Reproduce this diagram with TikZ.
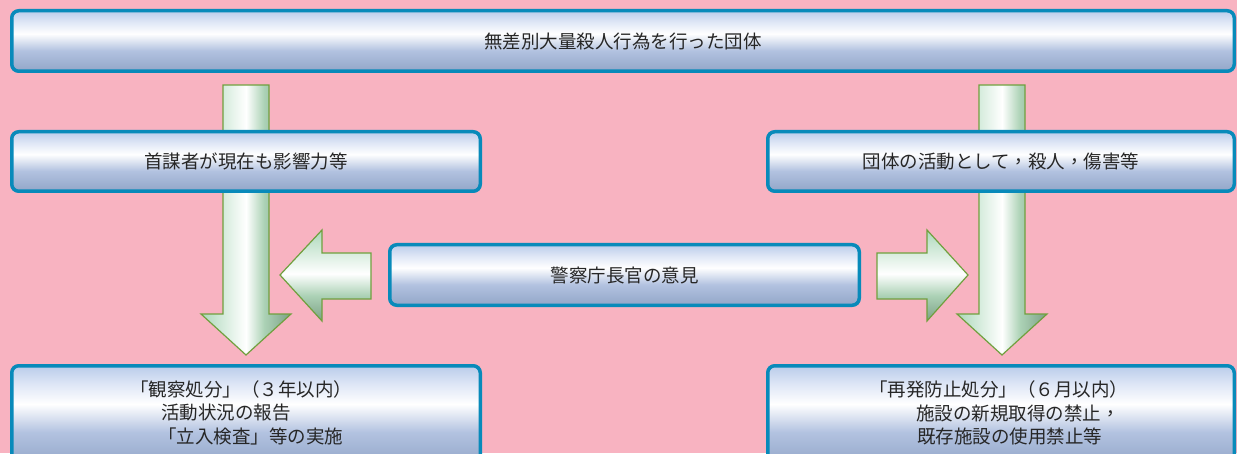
\documentclass[tikz,border=0pt]{standalone}
\usepackage{fontspec}
\newfontfamily\jp{Noto Sans CJK JP}
\newfontfamily\tcf{Noto Sans CJK TC}
\newcommand{\tcp}[1]{{\tcf #1}}
\usetikzlibrary{calc}
\definecolor{bg}{RGB}{248,179,193}
\definecolor{boxline}{RGB}{8,138,186}
\definecolor{btop}{RGB}{186,204,234}
\definecolor{bup}{RGB}{222,230,246}
\definecolor{blow}{RGB}{178,194,224}
\definecolor{bbot}{RGB}{146,166,200}
\definecolor{gl}{RGB}{172,216,186}
\definecolor{gm}{RGB}{172,210,182}
\definecolor{gd}{RGB}{124,160,134}
\definecolor{gedge}{RGB}{112,160,62}
\definecolor{txt}{RGB}{38,38,38}
\pgfdeclareverticalshading{boxshade}{100bp}{color(0bp)=(bbot); color(25bp)=(bbot); color(42bp)=(blow); color(56bp)=(white); color(66bp)=(bup); color(75bp)=(btop); color(100bp)=(btop)}
\pgfdeclarehorizontalshading{greenh}{100bp}{color(0bp)=(gl); color(25bp)=(gl); color(50bp)=(white); color(60bp)=(gm); color(75bp)=(gd); color(100bp)=(gd)}
\pgfdeclareverticalshading{greenv}{100bp}{color(0bp)=(gd); color(25bp)=(gd); color(39bp)=(gm); color(51bp)=(white); color(75bp)=(gl); color(100bp)=(gl)}
\tikzset{
  box/.style={draw=boxline, line width=3.5pt, rounded corners=7pt, shading=boxshade,
    inner sep=0pt, outer sep=0pt, text=txt, font=\jp\fontsize{18.5}{23.5}\selectfont},
  line/.style={text=txt, font=\jp\fontsize{18.5}{23.5}\selectfont, inner sep=0pt, anchor=west},
  varrow/.style={draw=gedge, line width=1.2pt, shading=greenh, line join=miter},
  harrow/.style={draw=gedge, line width=1.2pt, shading=greenv, line join=miter}
}
\begin{document}
\begin{tikzpicture}[x=1pt,y=1pt]
\useasboundingbox (0,0) rectangle (1237,453);
\fill[bg] (0,0) rectangle (1237,453);
\begin{scope}
\clip (0,0) rectangle (1237,453);
% vertical block arrows (behind boxes)
\path[varrow] (223,368) -- (269,368) -- (269,139) -- (291,139) -- (246,98) -- (201,139) -- (223,139) -- cycle;
\path[varrow] (979,368) -- (1025,368) -- (1025,139) -- (1047,139) -- (1002,98) -- (957,139) -- (979,139) -- cycle;
% horizontal block arrows
\path[harrow] (371,200) -- (322,200) -- (322,223) -- (280,178) -- (322,132) -- (322,154) -- (371,154) -- cycle;
\path[harrow] (877,200) -- (927,200) -- (927,223) -- (968,178) -- (927,132) -- (927,154) -- (877,154) -- cycle;
% boxes
\node[box, minimum width=1222.5pt, minimum height=60.5pt] (top) at (623,412) {無差別大量殺人行為を行った団体};
\node[box, minimum width=468.5pt, minimum height=59.5pt] (b2l) at (246,291.5) {首謀者が現在も影響力等};
\node[box, minimum width=466.5pt, minimum height=59.5pt] (b2r) at (1001,291.5) {団体の活動として\tcp{，}殺人\tcp{，}傷害等};
\node[box, minimum width=469.5pt, minimum height=60.5pt] (mid) at (624.5,178) {警察庁長官の意見};
\node[box, minimum width=468.5pt, minimum height=101pt] (bl) at (246,36.75) {};
\node[box, minimum width=466.5pt, minimum height=101pt] (br) at (1001,36.75) {};
\end{scope}
\node[line] (bl1) at (130,64) {「観察処分」\tcp{（}３年以内\tcp{）}};
\node[line] (bl2) at (161,40) {活動状況の報告};
\node[line] (bl3) at (158,17) {「立入検査」等の実施};
\node[line] (br1) at (869,64) {「再発防止処分」\tcp{（}６月以内\tcp{）}};
\node[line] (br2) at (916,40) {施設の新規取得の禁止\tcp{，}};
\node[line] (br3) at (917,17) {既存施設の使用禁止等};
\end{tikzpicture}
\end{document}
